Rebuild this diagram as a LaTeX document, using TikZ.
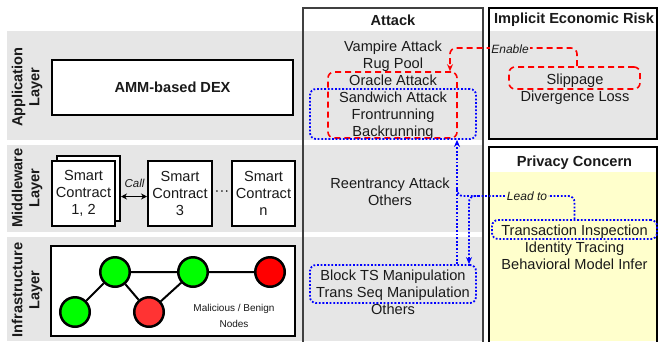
\documentclass[tikz,border=0pt]{standalone}
\usepackage{fontspec}
\setmainfont{Liberation Sans}
\usetikzlibrary{arrows.meta}
\definecolor{bandgray}{HTML}{E6E6E6}
\definecolor{paleyellow}{HTML}{FFFFCC}
\definecolor{txtgray}{HTML}{1A1A1A}
\definecolor{nodegreen}{HTML}{00FF00}
\definecolor{nodered}{HTML}{FF0000}
\definecolor{nodered2}{HTML}{FF3333}
\definecolor{colborder}{HTML}{404040}
\begin{document}
\begin{tikzpicture}[x=1pt,y=-1pt,
  every node/.style={text=txtgray, inner sep=0pt},
  txt/.style={font=\fontsize{14.6}{17}\selectfont, align=center},
  hdr/.style={font=\fontsize{14.6}{17}\selectfont\bfseries, align=center},
  smalltxt/.style={font=\fontsize{10}{16}\selectfont, align=center},
  lbl/.style={font=\fontsize{12}{14}\selectfont\itshape, inner sep=1pt},
  blk/.style={draw=black, line width=2pt, fill=white},
  reddash/.style={draw=red, line width=1.6pt, dash pattern=on 6pt off 4pt, rounded corners=6pt},
  bluedot/.style={draw=blue, line width=1.8pt, dash pattern=on 1.8pt off 1.8pt, rounded corners=6pt},
  pnode/.style={circle, draw=black, line width=2.5pt, minimum size=29.5pt},
  tip/.style={-{Stealth[length=7pt,width=6pt]}},
]
\useasboundingbox (0,0) rectangle (658,341);
% layer bands
\fill[bandgray] (7,31) rectangle (483,140);
\fill[bandgray] (7,145) rectangle (483,232);
\fill[bandgray] (7,237) rectangle (483,341);
% attack column
\draw[colborder, line width=1.5pt] (303,342) -- (303,8) -- (483,8) -- (483,342);
% implicit economic risk box
\fill[bandgray] (489,31) rectangle (657,139);
\draw[black, line width=1.5pt] (489,8) rectangle (657,139);
% privacy concern box
\fill[paleyellow] (489,172) rectangle (657,341);
\draw[black, line width=1.5pt] (489,342) -- (489,147) -- (657,147) -- (657,342);
% headers
\node[hdr] (hatk) at (393,20) {Attack};
\node[hdr] (hier) at (574,20) {Implicit Economic Risk};
\node[hdr] (hpc) at (574.5,162.5) {Privacy Concern};
% layer labels
\node[hdr, rotate=90] (lapp) at (27,87) {Application\\Layer};
\node[hdr, rotate=90] (lmid) at (27,188) {Middleware\\Layer};
\node[hdr, rotate=90] (linf) at (27,290) {Infrastructure\\Layer};
% application layer
\node[blk, hdr, minimum width=241pt, minimum height=55pt] (amm) at (172.5,87.5) {AMM-based DEX};
% middleware layer
\node[blk, minimum width=63pt, minimum height=65pt] (sc12b) at (88.5,188) {};
\node[blk, txt, minimum width=63pt, minimum height=65pt] (sc12) at (83.5,193.5) {Smart\\Contract\\1, 2};
\node[blk, txt, minimum width=64pt, minimum height=65pt] (sc3) at (180,193.5) {Smart\\Contract\\3};
\node[blk, txt, minimum width=63pt, minimum height=65pt] (scn) at (263.5,193.5) {Smart\\Contract\\n};
\node[txt] (dots) at (222,193) {···};
\node[font=\fontsize{11.5}{13}\selectfont\itshape] (call) at (134.5,183) {Call};
\draw[{Stealth[length=6pt,width=6pt]}-{Stealth[length=6pt,width=6pt]}, line width=1.3pt]
  ([yshift=-3pt]sc12b.east |- sc3.west) -- ([yshift=-3pt]sc3.west);
% infrastructure layer
\node[blk, minimum width=244pt, minimum height=90pt] (infra) at (173,291) {};
\node[pnode, fill=nodegreen] (n1) at (75,312) {};
\node[pnode, fill=nodegreen] (n2) at (115,272) {};
\node[pnode, fill=nodered2] (n3) at (149,312) {};
\node[pnode, fill=nodegreen] (n4) at (193,272) {};
\node[pnode, fill=nodered] (n5) at (270,272) {};
\draw[line width=2pt] (n1) -- (n2) (n2) -- (n3) (n3) -- (n4) (n2) -- (n4) (n4) -- (n5);
\node[smalltxt] (mal) at (234,315.5) {Malicious / Benign\\Nodes};
% attack texts
\node[txt] (aapp) at (393,90) {Vampire Attack\\Rug Pool\\Oracle Attack\\Sandwich Attack\\Frontrunning\\Backrunning};
\node[txt] (amid) at (390,191.5) {Reentrancy Attack\\Others};
\node[txt] (ainf) at (393,292) {Block TS Manipulation\\Trans Seq Manipulation\\Others};
% risk texts
\node[txt] (risk) at (575,89) {Slippage\\Divergence Loss};
\node[txt] (priv) at (574.5,247) {Transaction Inspection\\Identity Tracing\\Behavioral Model Infer};
% highlight boxes
\node[reddash, minimum width=129pt, minimum height=66pt] (rbox) at (392.5,105) {};
\node[bluedot, minimum width=166pt, minimum height=50pt] (bbox) at (393,114) {};
\node[reddash, minimum width=131pt, minimum height=22pt] (slip) at (574.5,78) {};
\node[bluedot, minimum width=165pt, minimum height=19pt] (tibox) at (574.5,229.5) {};
\node[bluedot, minimum width=166pt, minimum height=38pt] (btsbox) at (393,284) {};
% Enable connector
\coordinate (eturn) at (450,48);
\draw[red, line width=1.6pt, dash pattern=on 6pt off 4pt, rounded corners=6pt, tip]
  ([xshift=2.5pt]slip.north) |- (eturn) -- (eturn |- rbox.north);
\node[lbl, fill=bandgray] (enable) at (510,49) {Enable};
% Lead to connector
\coordinate (lj) at (457,196);
\coordinate (ld) at (469,196);
\draw[blue, line width=1.8pt, dash pattern=on 1.8pt off 1.8pt, tip]
  (btsbox.north -| lj) -- (bbox.south -| lj);
\draw[blue, line width=1.8pt, dash pattern=on 1.8pt off 1.8pt, rounded corners=6pt]
  (tibox.north) |- (lj) -- ([yshift=8pt]lj);
\draw[blue, line width=1.8pt, dash pattern=on 1.8pt off 1.8pt, rounded corners=6pt, tip]
  ([xshift=10pt]ld) -- (ld) -- (btsbox.north -| ld);
\node[lbl, fill=paleyellow] (leadto) at (527,196) {Lead to};
\end{tikzpicture}
\end{document}
